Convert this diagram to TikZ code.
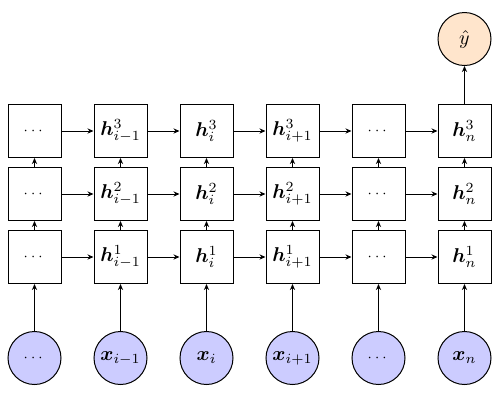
\documentclass[tikz,border=0pt]{standalone}
\usepackage{amsmath,bm}
\usetikzlibrary{arrows.meta}
\newcommand{\smalldots}{{\scriptsize$\cdots$}}
\begin{document}
\begin{tikzpicture}[x=0.5pt,y=-0.5pt,
  cell/.style={draw, line width=0.5pt, minimum size=26.5pt, inner sep=0pt, font=\normalsize},
  inp/.style={circle, draw, line width=0.5pt, fill=blue!20, minimum size=26.5pt, inner sep=0pt, font=\normalsize},
  outp/.style={circle, draw, line width=0.5pt, fill=orange!20, minimum size=26.5pt, inner sep=0pt, font=\normalsize},
  arr/.style={line width=0.5pt, -{Stealth[length=3pt,width=2.6pt]}}]
\useasboundingbox (0,0) rectangle (499,393);
\def\colx{{34.5,120.5,206.5,292.5,378.5,464.5}}
\def\rowy{{0,257,194,131}}
\foreach \c/\lab in {0/{},1/{i-1},2/{i},3/{i+1},4/{},5/{n}} {
  \pgfmathsetmacro{\xx}{\colx[\c]}
  \foreach \r in {1,2,3} {
    \pgfmathsetmacro{\yy}{\rowy[\r]}
    \ifnum\c=0
      \node[cell] (h-\r-\c) at (\xx,\yy) {\smalldots};
    \else\ifnum\c=4
      \node[cell] (h-\r-\c) at (\xx,\yy) {\smalldots};
    \else
      \node[cell] (h-\r-\c) at (\xx,\yy) {$\bm{h}^{\r}_{\lab}$};
    \fi\fi
  }
  \ifnum\c=0
    \node[inp] (x-\c) at (\xx,358) {\smalldots};
  \else\ifnum\c=4
    \node[inp] (x-\c) at (\xx,358) {\smalldots};
  \else
    \node[inp] (x-\c) at (\xx,358) {$\bm{x}_{\lab}$};
  \fi\fi
}
\node[outp] (y) at (464.5,39) {$\hat{y}$};
\foreach \c in {0,...,5} {
  \draw[arr] (x-\c) -- (h-1-\c);
  \draw[arr] (h-1-\c) -- (h-2-\c);
  \draw[arr] (h-2-\c) -- (h-3-\c);
}
\foreach \r in {1,2,3} {
  \foreach \c [evaluate=\c as \n using int(\c+1)] in {0,...,4} {
    \draw[arr] (h-\r-\c) -- (h-\r-\n);
  }
}
\draw[arr] (h-3-5) -- (y);
\end{tikzpicture}
\end{document}
